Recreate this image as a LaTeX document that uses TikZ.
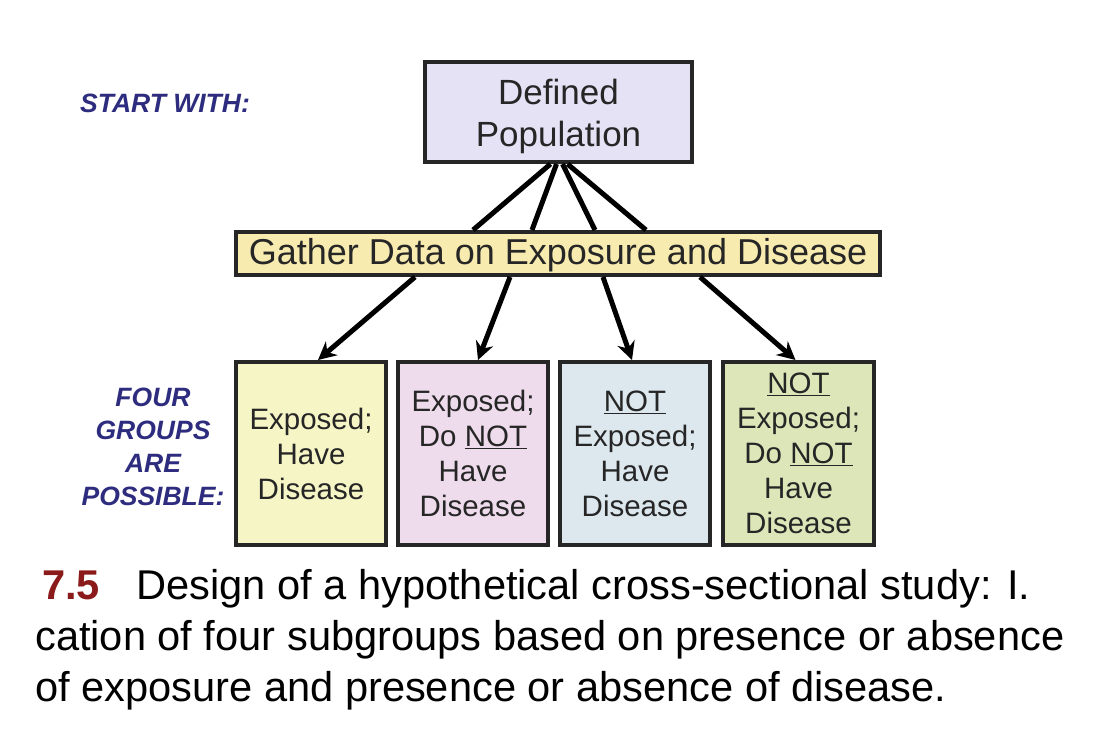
\documentclass[tikz,border=0pt]{standalone}
\usepackage{fontspec}
\setmainfont{Liberation Sans}
\usetikzlibrary{arrows.meta,calc}
\definecolor{navy}{HTML}{2E2C7E}
\definecolor{popfill}{HTML}{E4E2F4}
\definecolor{gathfill}{HTML}{F7EBAF}
\definecolor{fillA}{HTML}{F6F5C6}
\definecolor{fillB}{HTML}{EEDCEC}
\definecolor{fillC}{HTML}{DCE7EE}
\definecolor{fillD}{HTML}{DDE6B9}
\definecolor{capred}{HTML}{8B1A1A}
\tikzset{
  boxstyle/.style={draw=black!85, line width=4pt, inner sep=0pt, align=center, text=black!85},
  groupbox/.style={boxstyle, minimum width=150pt, minimum height=183pt, font=\fontsize{29.5}{35}\selectfont},
  sidelabel/.style={text=navy, font=\fontsize{26.5}{33}\selectfont\bfseries\itshape, align=center, inner sep=0pt},
  fanline/.style={line width=5pt, black},
  arrowline/.style={line width=5pt, black, -{Stealth[length=18pt,width=18pt]}},
  captext/.style={anchor=base west, inner sep=0pt, font=\fontsize{41.6}{51}\selectfont}
}
\begin{document}
\begin{tikzpicture}[x=1pt,y=-1pt]
\useasboundingbox (0,0) rectangle (1111,732);
\fill[white] (0,0) rectangle (1111,732);

\node[boxstyle, fill=popfill, minimum width=267pt, minimum height=100pt,
      font=\fontsize{35}{42}\selectfont] (pop) at (558.5,112) {\raisebox{-5pt}[\height][\depth]{\begin{tabular}{@{}c@{}}Defined\\Population\end{tabular}}};
\node[boxstyle, fill=gathfill, minimum width=644pt, minimum height=43pt,
      font=\fontsize{36}{42}\selectfont] (gather) at (558,253.5) {\raisebox{-2pt}[\height][\depth]{Gather Data on Exposure and Disease}};

\node[groupbox, fill=fillA] (b1) at (311,453.5) {Exposed;\\Have\\Disease};
\node[groupbox, fill=fillB] (b2) at (473,453.5) {Exposed;\\Do \underline{NOT}\\Have\\Disease};
\node[groupbox, fill=fillC] (b3) at (635,453.5) {\underline{NOT}\\Exposed;\\Have\\Disease};
\node[groupbox, fill=fillD, minimum width=151pt] (b4) at (798.5,453.5) {\underline{NOT}\\Exposed;\\Do \underline{NOT}\\Have\\Disease};

\node[sidelabel] (start) at (165,103) {START WITH:};
\node[sidelabel] (four) at (153,447) {FOUR\\GROUPS\\ARE\\POSSIBLE:};

\draw[fanline] ($(pop.south)+(-8,0)$) -- ($(gather.north)+(-85,0)$);
\draw[fanline] ($(pop.south)+(-2,0)$) -- ($(gather.north)+(-26,0)$);
\draw[fanline] ($(pop.south)+(4,0)$) -- ($(gather.north)+(37,0)$);
\draw[fanline] ($(pop.south)+(9,0)$) -- ($(gather.north)+(88,0)$);

\draw[arrowline] ($(gather.south)+(-143,0)$) -- ($(b1.north)+(7,0)$);
\draw[arrowline] ($(gather.south)+(-48,0)$) -- ($(b2.north)+(5,0)$);
\draw[arrowline] ($(gather.south)+(45,0)$) -- ($(b3.north)+(-3,0)$);
\draw[arrowline] ($(gather.south)+(142,0)$) -- ($(b4.north)+(-3,0)$);

\node[captext, text=capred, font=\fontsize{41.6}{51}\selectfont\bfseries] (capnum) at (42,599) {7.5};
\node[captext] (cap1) at (136,599) {Design of a hypothetical cross-sectional study: I.};
\node[captext] (cap2) at (35,650) {cation of four subgroups based on presence or absence};
\node[captext] (cap3) at (35,701) {of exposure and presence or absence of disease.};
\end{tikzpicture}
\end{document}
